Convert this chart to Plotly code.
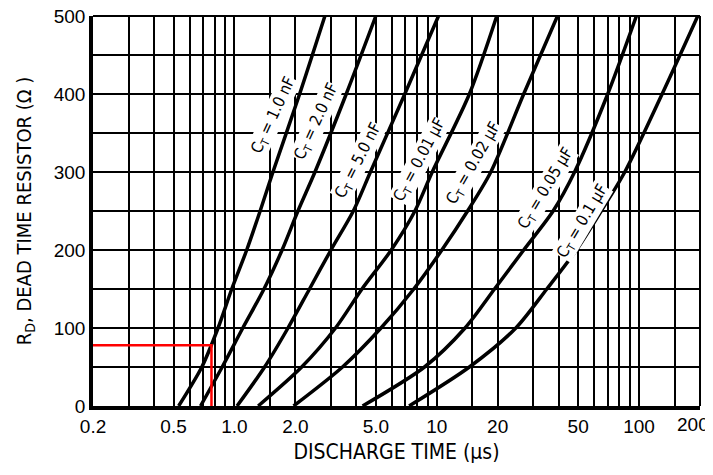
import numpy as np
import plotly.graph_objects as go

# ---- data ----
R_values = [0, 50, 100, 150, 200, 250, 300, 400, 500]
t_1nF = [0.53, 0.69, 0.83, 0.97, 1.15, 1.34, 1.55, 2.1, 2.8]
t_2nF = [0.68, 0.87, 1.10, 1.40, 1.72, 2.06, 2.5, 3.57, 5.0]
t_5nF = [1.03, 1.41, 1.84, 2.35, 3.0, 3.87, 4.7, 6.95, 10.2]
t_10nF = [1.31, 2.15, 3.16, 4.27, 5.96, 7.8, 9.5, 14.5, 19.8]
t_20nF = [1.96, 3.42, 5.3, 7.7, 10.6, 14.2, 18.5, 26.9, 39.5]
t_50nF = [4.3, 8.7, 13.8, 19.3, 26.9, 37.6, 48, 70, 97]
t_100nF = [7.3, 14.5, 24.6, 35, 49, 65, 85, 130, 195]

curve_names = ["C<sub>T</sub> = 1.0 nF", "C<sub>T</sub> = 2.0 nF", "C<sub>T</sub> = 5.0 nF",
               "C<sub>T</sub> = 0.01 µF", "C<sub>T</sub> = 0.02 µF", "C<sub>T</sub> = 0.05 µF",
               "C<sub>T</sub> = 0.1 µF"]
curves = [t_1nF, t_2nF, t_5nF, t_10nF, t_20nF, t_50nF, t_100nF]

example_R = 78
example_t = 0.77

x_grid = [0.2, 0.3, 0.4, 0.5, 0.6, 0.7, 0.8, 0.9, 1.0, 1.5, 2, 3, 4, 5, 6, 7, 8, 9, 10,
          15, 20, 30, 40, 50, 60, 70, 80, 90, 100, 150, 200]
x_labels = {0.2: "0.2", 0.5: "0.5", 1.0: "1.0", 2: "2.0", 5: "5.0", 10: "10",
            20: "20", 50: "50", 100: "100", 200: "200"}
y_grid = [0, 50, 100, 150, 200, 250, 300, 350, 400, 450, 500]
y_labels = {0: "0", 100: "100", 200: "200", 300: "300", 400: "400", 500: "500"}

# ---- figure ----
NARROW = "Liberation Sans Narrow, Arial Narrow, DejaVu Sans Condensed, sans-serif"
REG = "Liberation Sans, Arial, sans-serif"
TICKFONT = dict(family=REG, size=19, color="black")

fig = go.Figure()
for name, t in zip(curve_names, curves):
    fig.add_trace(go.Scatter(x=t, y=R_values, mode="lines", name=name,
                             line=dict(color="black", width=3.5, shape="spline", smoothing=0.8),
                             hoverinfo="skip", showlegend=False))

fig.add_trace(go.Scatter(x=[x_grid[0], example_t, example_t], y=[example_R, example_R, 0],
                         mode="lines", line=dict(color="#ff0000", width=2.5),
                         hoverinfo="skip", showlegend=False))

# label placement (layout positions: [time, R, angle])
label_pos = [(1.556, 373, -65), (2.54, 365, -65), (4.1, 315, -63), (8.2, 315, -62),
             (15.2, 311, -60), (34.6, 279, -59), (52.7, 236, -59)]
for name, (lx, ly, ang) in zip(curve_names, label_pos):
    fig.add_annotation(x=np.log10(lx), y=ly, text=name, showarrow=False, textangle=ang,
                       bgcolor="white", borderpad=0,
                       font=dict(family=NARROW, size=16, color="black"))

# last x tick label is right-aligned to the plot edge so that it stays inside the page
last_x = x_grid[-1]
fig.add_annotation(x=np.log10(last_x), y=0, xref="x", yref="paper", text=x_labels[last_x],
                   showarrow=False, xanchor="right", yanchor="top", xshift=10, yshift=-7,
                   borderpad=0, font=TICKFONT)

# thin top/right border
fig.add_shape(type="line", xref="paper", yref="paper", x0=0, x1=1, y0=1, y1=1,
              line=dict(color="black", width=2))
fig.add_shape(type="line", xref="paper", yref="paper", x0=1, x1=1, y0=0, y1=1,
              line=dict(color="black", width=2))

eps = 1e-4
fig.update_xaxes(type="log", range=[np.log10(0.2) - eps, np.log10(200) + eps],
                 tickvals=x_grid,
                 ticktext=[x_labels.get(v, "") if v != last_x else "" for v in x_grid],
                 showgrid=True, gridcolor="black", gridwidth=1.5,
                 showline=True, linecolor="black", linewidth=3.5, mirror=False,
                 ticks="", zeroline=False, automargin=False, ticklabeloverflow="allow",
                 tickfont=TICKFONT,
                 title=dict(text="DISCHARGE TIME (µs)", standoff=10,
                            font=dict(family=NARROW, size=21, color="black")))
fig.update_yaxes(range=[0, 500], tickvals=y_grid,
                 ticktext=[y_labels.get(v, "") for v in y_grid],
                 showgrid=True, gridcolor="black", gridwidth=1.5,
                 showline=True, linecolor="black", linewidth=3.5, mirror=False,
                 ticks="", zeroline=False, automargin=False, ticklabeloverflow="allow",
                 tickfont=TICKFONT,
                 title=dict(text="R<sub>D</sub>, DEAD TIME RESISTOR (Ω )", standoff=18,
                            font=dict(family=NARROW, size=20, color="black")))

# the page body adds an 8px margin, so the figure is sized to compensate
fig.update_layout(width=705, height=467, margin=dict(l=85, r=13, t=8, b=69, autoexpand=False),
                  plot_bgcolor="white", paper_bgcolor="white", showlegend=False)

fig.write_html("out.html")
